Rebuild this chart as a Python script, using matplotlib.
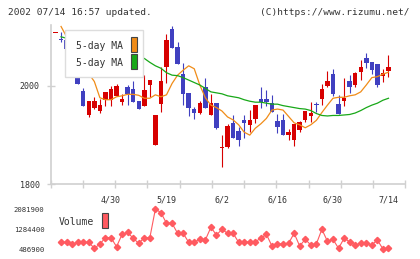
import matplotlib
matplotlib.use("Agg")
import matplotlib.pyplot as plt
from matplotlib.patches import Rectangle
import numpy as np

plt.rcParams['font.family'] = ['DejaVu Sans Mono']

# daily prices (open, high, low, close)
opens = [2107, 2094, 2094, 2085, 2037, 1990, 1941, 1955, 1950, 1972,
         1972, 1980, 1967, 1998, 1994, 1969, 1960, 2001, 1880, 1963,
         2039, 2116, 2079, 2024, 1986, 1953, 1946, 1998, 1941, 1965,
         1873, 1875, 1924, 1908, 1931, 1921, 1933, 1974, 1974, 1965,
         1929, 1931, 1900, 1890, 1910, 1931, 1938, 1962, 1974, 2000,
         2024, 1963, 1970, 2010, 2002, 2029, 2057, 2049, 2045, 2021,
         2031]
highs = [2108, 2109, 2099, 2087, 2047, 1995, 1969, 1978, 1974, 1987,
         1999, 2003, 1983, 2001, 2010, 1969, 2022, 2012, 1941, 2038,
         2105, 2122, 2089, 2046, 1986, 1957, 1970, 2016, 1983, 1965,
         1900, 1922, 1940, 1917, 1940, 1951, 1961, 1997, 1992, 1982,
         1943, 1943, 1913, 1923, 1928, 1949, 1968, 1968, 2004, 2031,
         2035, 1982, 2017, 2022, 2029, 2053, 2067, 2049, 2045, 2035,
         2063]
lows = [2107, 2089, 2075, 2031, 2005, 1960, 1936, 1954, 1946, 1959,
        1960, 1980, 1961, 1961, 1968, 1953, 1960, 1978, 1880, 1948,
        2007, 2078, 2045, 1961, 1938, 1933, 1942, 1955, 1941, 1913,
        1836, 1873, 1895, 1877, 1895, 1907, 1925, 1956, 1959, 1948,
        1905, 1900, 1890, 1877, 1906, 1926, 1927, 1947, 1961, 1997,
        1980, 1943, 1960, 1986, 1998, 2012, 2037, 2025, 1997, 2009,
        2019]
closes = [2108, 2093, 2075, 2031, 2005, 1960, 1969, 1969, 1961, 1987,
          1994, 2000, 1974, 1984, 1968, 1953, 1992, 2012, 1941, 2010,
          2094, 2078, 2045, 1984, 1956, 1946, 1965, 1956, 1965, 1915,
          1874, 1919, 1895, 1890, 1925, 1931, 1961, 1967, 1967, 1948,
          1917, 1900, 1907, 1923, 1926, 1949, 1945, 1961, 1994, 2010,
          1984, 1943, 1976, 1997, 2026, 2039, 2047, 2033, 2002, 2026,
          2039]

ma5 = [np.nan, 2121, 2100, 2078, 2058, 2040, 2025, 2009, 1976, 1972,
       1972, 1978, 1980, 1983, 1983, 1981, 1975, 1975, 1982, 1978,
       1982, 2005, 2022, 2032, 2041, 2035, 2002, 1976, 1961, 1956,
       1949, 1937, 1931, 1921, 1906, 1900, 1914, 1923, 1934, 1951,
       1953, 1951, 1938, 1925, 1921, 1915, 1921, 1930, 1946, 1961,
       1975, 1977, 1977, 1980, 1982, 1988, 2002, 2017, 2019, 2024,
       2028]
ma25 = [np.nan, 2100, 2097, 2094, 2091, 2088, 2085, 2082, 2079, 2076,
        2073, 2070, 2067, 2064, 2061, 2058, 2056, 2048, 2041, 2036,
        2027, 2022, 2021, 2017, 2012, 2007, 2002, 1995, 1988, 1986,
        1984, 1980, 1978, 1976, 1972, 1969, 1967, 1967, 1965, 1963,
        1963, 1960, 1958, 1956, 1954, 1953, 1950, 1944, 1940, 1939,
        1940, 1940, 1941, 1942, 1945, 1950, 1956, 1961, 1965, 1971,
        1975]

volume = [np.nan, 754000, 754000, 686000, 754000, 754000, 754000, 514000, 686000, 938000,
          938000, 579000, 1073000, 1152000, 913000, 714000, 938000, 938000, 2081900, 1935000,
          1512000, 1512000, 1113000, 1113000, 754000, 754000, 886000, 846000, 1352000, 1045000,
          1272000, 1113000, 1113000, 754000, 780000, 754000, 780000, 913000, 1073000, 606000,
          686000, 686000, 714000, 1113000, 606000, 873000, 646000, 686000, 1272000, 793000,
          873000, 514000, 913000, 780000, 646000, 714000, 740000, 646000, 846000, 486900,
          514000]

date_pos = [10, 20, 30, 40, 50, 60]
date_labels = ["4/30", "5/19", "6/2", "6/16", "6/30", "7/14"]
vol_ticks = [486900, 1284400, 2081900]

W, H = 420, 259
def fx(p):
    return p / W
def fy(p):
    return 1 - p / H

RED = '#d70000'
BLUE = '#4040c0'
GRAY = '#d0d0d0'
TXT = '#333333'

fig = plt.figure(figsize=(4.2, 2.59), dpi=100)
ax = fig.add_axes([fx(50.7), fy(184.3), (405.3 - 50.7) / W, (184.3 - 25) / H])
xlo, xhi = -0.865, 63.03
ax.set_xlim(xlo, xhi)
ax.set_ylim(1800, 2124)

idx = np.arange(len(opens))
o = np.array(opens); c = np.array(closes)
cols = [RED if cc > oo else BLUE for oo, cc in zip(o, c)]
ax.vlines(idx, lows, highs, colors=cols, lw=0.8, zorder=2)
ax.bar(idx, np.maximum(np.abs(c - o), 2), bottom=np.minimum(o, c), width=0.8,
       color=cols, linewidth=0, zorder=3)
ax.plot(idx, ma5, color='#f08c18', lw=0.9, zorder=4)
ax.plot(idx, ma25, color='#18a818', lw=0.9, zorder=4)

for s in ['top', 'right']:
    ax.spines[s].set_visible(False)
for s in ['left', 'bottom']:
    ax.spines[s].set_color(GRAY)
    ax.spines[s].set_linewidth(1.2)

ax.set_xticks(np.linspace(xlo, xhi, 12))
ax.set_xticks(date_pos, minor=True)
ax.set_xticklabels(date_labels, minor=True)
ax.tick_params(axis='x', which='major', direction='inout', length=6, width=1,
               color=GRAY, labelbottom=False)
ax.tick_params(axis='x', which='minor', length=0, pad=8, labelsize=6, labelcolor=TXT)
ax.set_yticks([1800, 2000])
ax.tick_params(axis='y', direction='inout', length=6, width=1, color=GRAY,
               labelsize=6, labelcolor=TXT, pad=5)

# legend box
fig.add_artist(Rectangle((fx(65.3), fy(77.3)), 78 / W, 47.3 / H, transform=fig.transFigure,
                         facecolor='white', edgecolor='#dddddd', lw=1, zorder=5))
fig.text(fx(76.5), fy(46.3), "5-day MA", fontsize=7, color=TXT, va='center', zorder=6)
fig.text(fx(76.5), fy(63), "5-day MA", fontsize=7, color=TXT, va='center', zorder=6)
fig.add_artist(Rectangle((fx(131.3), fy(52.3)), 6 / W, 15 / H, transform=fig.transFigure,
                         facecolor='#f08c18', edgecolor='#444444', lw=0.8, zorder=6))
fig.add_artist(Rectangle((fx(131.3), fy(69.3)), 6 / W, 15 / H, transform=fig.transFigure,
                         facecolor='#18a818', edgecolor='#444444', lw=0.8, zorder=6))

# volume
axv = fig.add_axes([fx(50.7), fy(249), (405.3 - 50.7) / W, 40 / H])
axv.set_xlim(xlo, xhi)
axv.set_ylim(486900, 2081900)
axv.plot(idx, volume, color='#ff5a60', lw=0.8, marker='D', ms=3.2, clip_on=False)
for s in axv.spines.values():
    s.set_visible(False)
axv.set_xticks([])
axv.set_yticks(vol_ticks)
axv.set_yticklabels([str(v) for v in vol_ticks])
axv.tick_params(axis='y', length=0, pad=4.5, labelsize=5.2, labelcolor=TXT)
axv.patch.set_alpha(0)

fig.text(fx(59), fy(221.7), "Volume", fontsize=7, color=TXT, va='center')
fig.add_artist(Rectangle((fx(101.7), fy(228.3)), 6 / W, 15 / H, transform=fig.transFigure,
                         facecolor='#ff5a60', edgecolor='#444444', lw=0.8))

fig.text(fx(8), fy(12.5), "2002 07/14 16:57 updated.", fontsize=6.8, color=TXT, va='center')
fig.text(fx(410), fy(12.5), "(C)https://www.rizumu.net/", fontsize=6.8, color=TXT,
         va='center', ha='right')

fig.savefig("out.png", dpi=100)
